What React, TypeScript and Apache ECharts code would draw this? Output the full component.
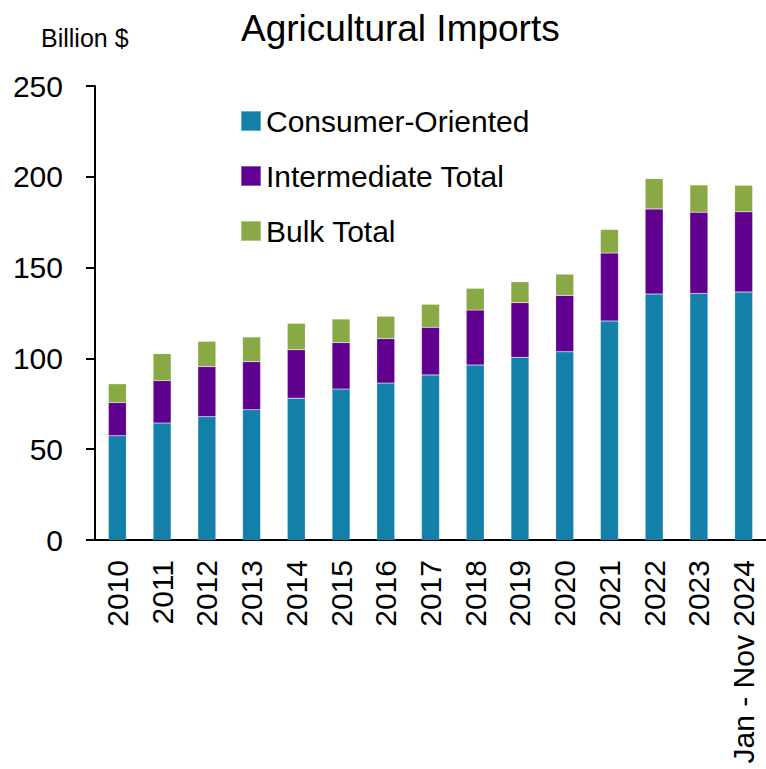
import React, { useEffect, useRef } from "react";
import * as echarts from "echarts";

const categories = ["2010", "2011", "2012", "2013", "2014", "2015", "2016", "2017", "2018", "2019", "2020", "2021", "2022", "2023", "Jan - Nov 2024"];
const consumerOriented = [57.4, 64.4, 67.9, 71.7, 78.1, 83.1, 86.4, 90.9, 96.4, 100.6, 103.6, 120.6, 135.4, 135.8, 136.5];
const intermediateTotal = [18.3, 23.4, 27.6, 26.5, 26.7, 25.6, 24.5, 26.2, 30.2, 30.1, 31.1, 37.4, 46.9, 44.7, 44.2];
const bulkTotal = [10.3, 14.8, 13.9, 13.6, 14.5, 13.0, 12.3, 12.7, 12.0, 11.5, 11.7, 13.0, 16.7, 15.0, 14.6];
const seriesNames = ["Consumer-Oriented", "Intermediate Total", "Bulk Total"];
const colors = ["#1380A9", "#5F008F", "#88A943"];

const FONT = "'Liberation Sans', Arial, sans-serif";

export default function App() {
  const ref = useRef<HTMLDivElement>(null);
  useEffect(() => {
    if (!ref.current) return;
    const chart = echarts.init(ref.current, null, { renderer: "svg" });
    const data = [consumerOriented, intermediateTotal, bulkTotal];
    chart.setOption({
      animation: false,
      backgroundColor: "#ffffff",
      title: [
        {
          text: "Agricultural Imports",
          left: 236,
          top: 5,
          textStyle: { fontFamily: FONT, fontSize: 37, fontWeight: "normal", color: "#000" },
        },
        {
          text: "Billion $",
          left: 36,
          top: 20,
          textStyle: { fontFamily: FONT, fontSize: 25, fontWeight: "normal", color: "#000" },
        },
      ],
      legend: {
        orient: "vertical",
        left: 235,
        top: 101,
        itemWidth: 20,
        itemHeight: 20,
        itemGap: 25,
        icon: "rect",
        textStyle: { fontFamily: FONT, fontSize: 30, color: "#000", lineHeight: 30 },
        data: seriesNames,
      },
      grid: { left: 95, top: 86, width: 675, height: 454, containLabel: false },
      xAxis: {
        type: "category",
        data: categories,
        axisLine: { lineStyle: { color: "#000", width: 2 } },
        axisTick: { show: false },
        axisLabel: {
          rotate: 90,
          interval: 0,
          margin: 20,
          fontFamily: FONT,
          fontSize: 30,
          color: "#000",
        },
      },
      yAxis: {
        type: "value",
        min: 0,
        max: 250,
        interval: 50,
        splitLine: { show: false },
        axisLine: { show: true, lineStyle: { color: "#000", width: 2 } },
        axisTick: { show: true, inside: false, length: 9, lineStyle: { color: "#000", width: 2 } },
        axisLabel: { margin: 32, fontFamily: FONT, fontSize: 30, color: "#000" },
      },
      series: seriesNames.map((name, i) => ({
        name,
        type: "bar",
        stack: "total",
        barWidth: 18,
        data: data[i],
        itemStyle: { color: colors[i], borderColor: "rgba(255,255,255,0.35)", borderWidth: 0.5 },
      })),
    });
    return () => chart.dispose();
  }, []);
  return (
    <div
      ref={ref}
      style={{ position: "fixed", left: 0, top: 0, width: 766, height: 769, background: "#fff" }}
    />
  );
}
